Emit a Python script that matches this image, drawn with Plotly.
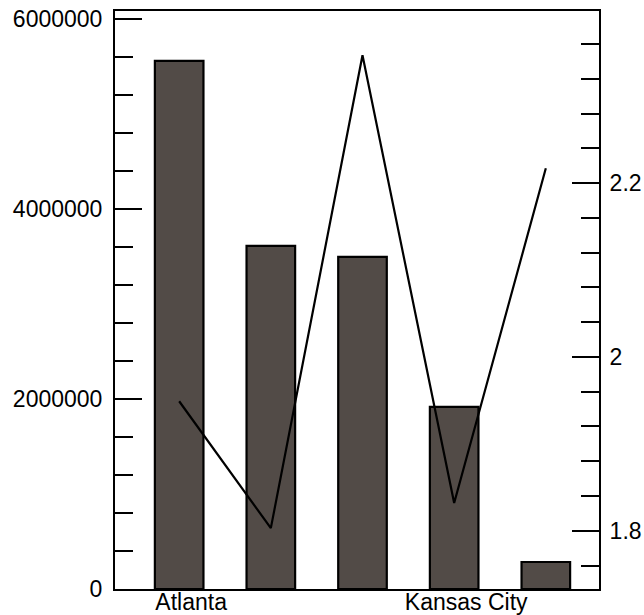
import plotly.graph_objects as go

# Data
tick_labels = ["Atlanta", "", "", "Kansas City", ""]
bar_values = [5558000, 3611000, 3495000, 1916000, 284000]
line_values = [1.949, 1.803, 2.347, 1.832, 2.217]
x_index = list(range(len(bar_values)))

left_major = [0, 2000000, 4000000, 6000000]
right_major = [1.8, 2.0, 2.2]

font = dict(family="Liberation Sans, Arial, Helvetica, sans-serif", size=23, color="black")

fig = go.Figure()
fig.add_trace(go.Bar(
    x=x_index, y=bar_values, width=0.53,
    marker=dict(color="#524B47", line=dict(color="black", width=2.2)),
    showlegend=False,
))
fig.add_trace(go.Scatter(
    x=x_index, y=line_values, yaxis="y2", mode="lines",
    line=dict(color="black", width=2.2),
    showlegend=False,
))

fig.update_layout(
    width=644, height=615,
    margin=dict(l=115, r=45, t=11, b=26, autoexpand=False),
    paper_bgcolor="white", plot_bgcolor="white",
    font=font,
    xaxis=dict(
        range=[-0.70, 4.58], showgrid=False, zeroline=False, automargin=False,
        showline=True, linecolor="black", linewidth=2, mirror=True,
        tickmode="array", tickvals=x_index, ticktext=tick_labels,
        ticks="", ticklabelshift=12, ticklabelstandoff=-9, tickfont=font,
        ticklabeloverflow="allow",
    ),
    yaxis=dict(
        range=[0, 6084000], showgrid=False, zeroline=False, automargin=False,
        showline=True, linecolor="black", linewidth=2,
        tickmode="array", tickvals=left_major, tickformat="d",
        ticks="inside", ticklen=27, tickwidth=2, tickcolor="black",
        ticklabelstandoff=6, ticklabeloverflow="allow",
        minor=dict(dtick=400000, ticks="inside", ticklen=18, tickwidth=2,
                   tickcolor="black", showgrid=False),
        tickfont=font,
    ),
    yaxis2=dict(
        range=[1.733, 2.398], overlaying="y", side="right", automargin=False,
        showgrid=False, zeroline=False,
        showline=True, linecolor="black", linewidth=2,
        tickmode="array", tickvals=right_major, ticktext=["1.8", "2", "2.2"],
        ticks="inside", ticklen=27, tickwidth=2, tickcolor="black",
        ticklabelstandoff=4, ticklabeloverflow="allow",
        minor=dict(dtick=0.04, tick0=1.8, ticks="inside", ticklen=18, tickwidth=2,
                   tickcolor="black", showgrid=False),
        tickfont=font,
    ),
)

fig.write_html(
    "out.html",
    config={"displayModeBar": False},
    post_script="document.body.style.margin='0';document.body.style.overflow='hidden';",
)
